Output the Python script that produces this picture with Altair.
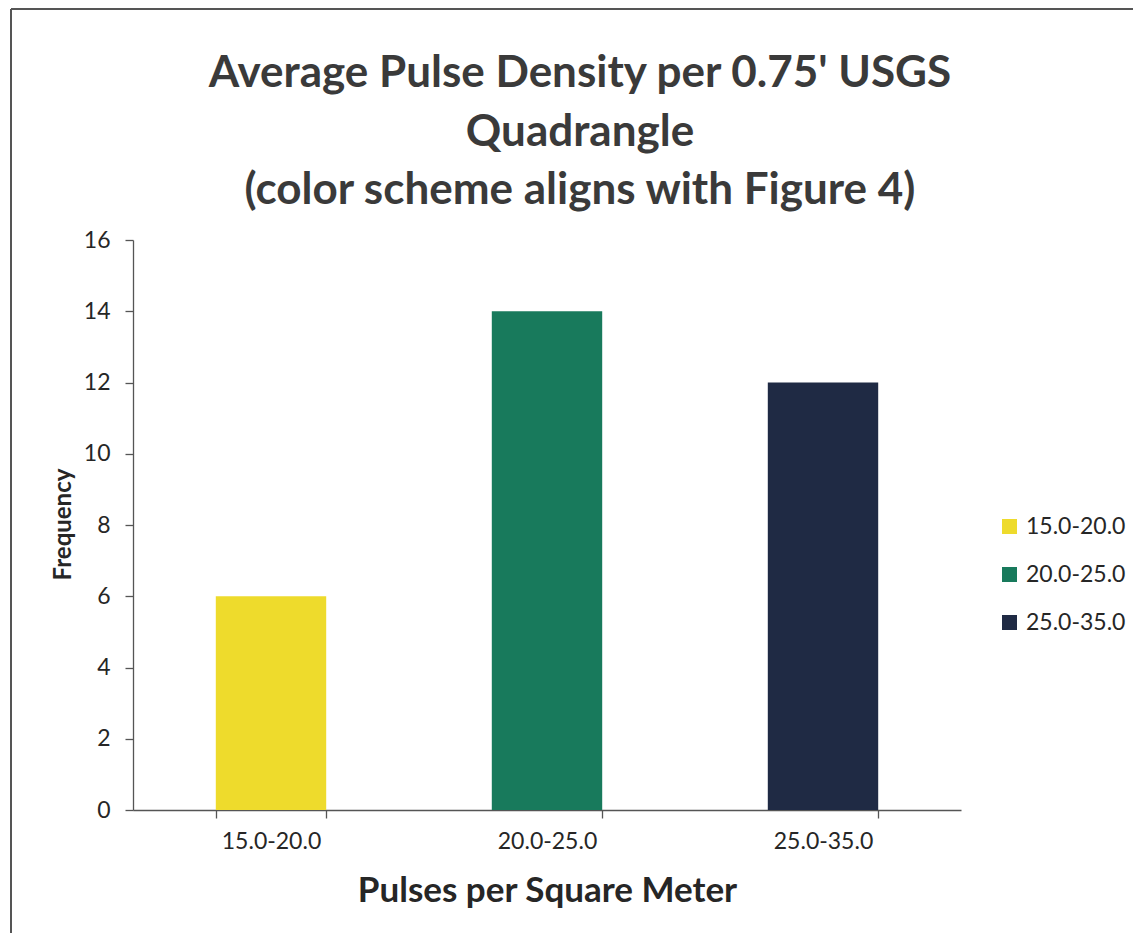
import altair as alt
import pandas as pd

categories = ["15.0-20.0", "20.0-25.0", "25.0-35.0"]
frequency = [6, 14, 12]
colors = ["#EEDB2C", "#187A5C", "#1F2A44"]
title_lines = ["Average Pulse Density per 0.75' USGS", "Quadrangle", "(color scheme aligns with Figure 4)"]
y_ticks = [0, 2, 4, 6, 8, 10, 12, 14, 16]

df = pd.DataFrame({"range": categories, "freq": frequency})
FONT = "Lato"
TXT = "#262626"
AX = "#555555"

bars = alt.Chart(df).mark_bar().encode(
    x=alt.X("range:N", sort=categories,
            scale=alt.Scale(paddingInner=0.6, paddingOuter=0.3),
            axis=alt.Axis(title="Pulses per Square Meter", labelAngle=0, tickBand="extent",
                          labelFontSize=23, labelFont=FONT, labelColor=TXT, labelPadding=12,
                          titleFont=FONT, titleFontSize=35, titleFontWeight="bold", titleColor=TXT,
                          titlePadding=20, tickSize=8, domainColor=AX, tickColor=AX,
                          domainWidth=1.3, tickWidth=1.3)),
    y=alt.Y("freq:Q", scale=alt.Scale(domain=[0, 16]),
            axis=alt.Axis(title="Frequency", values=y_ticks, grid=False,
                          labelFontSize=23, labelFont=FONT, labelColor=TXT, labelPadding=15,
                          titleFont=FONT, titleFontSize=24, titleFontWeight="bold", titleColor=TXT,
                          titleX=-70, titleY=284, titleBaseline="middle", titleAlign="center",
                          tickSize=8, domainColor=AX, tickColor=AX,
                          domainWidth=1.3, tickWidth=1.3)),
    color=alt.Color("range:N", sort=categories,
                    scale=alt.Scale(domain=categories, range=colors),
                    legend=alt.Legend(title=None, orient="none", legendX=865, legendY=275,
                                      padding=0, symbolType="square", symbolSize=225,
                                      symbolStrokeWidth=0, labelFont=FONT, labelFontSize=23,
                                      labelColor=TXT, rowPadding=24, labelOffset=5)),
)

one = alt.Data(values=[{"a": 1}])
title_y = [-153, -94, -36]
title_layers = [
    alt.Chart(one).mark_text(text=line, font=FONT, fontSize=44, fontWeight="bold",
                             color="#3A3A3A", align="center", baseline="alphabetic")
    .encode(x=alt.value(447), y=alt.value(yy))
    for line, yy in zip(title_lines, title_y)
]

frame_top = alt.Chart(one).mark_rule(color="#555", strokeWidth=2).encode(
    x=alt.value(-122), x2=alt.value(1000), y=alt.value(-231))
frame_left = alt.Chart(one).mark_rule(color="#555", strokeWidth=2).encode(
    x=alt.value(-122), y=alt.value(-231), y2=alt.value(700))

chart = alt.layer(bars, frame_top, frame_left, *title_layers).properties(
    width=828, height=570,
    autosize=alt.AutoSizeParams(type="none"),
    padding={"left": 125, "top": 232, "right": 173, "bottom": 123},
).configure(background="white").configure_view(strokeOpacity=0, strokeWidth=0)

chart.save("out.html", embed_options={"renderer": "svg", "actions": False})
